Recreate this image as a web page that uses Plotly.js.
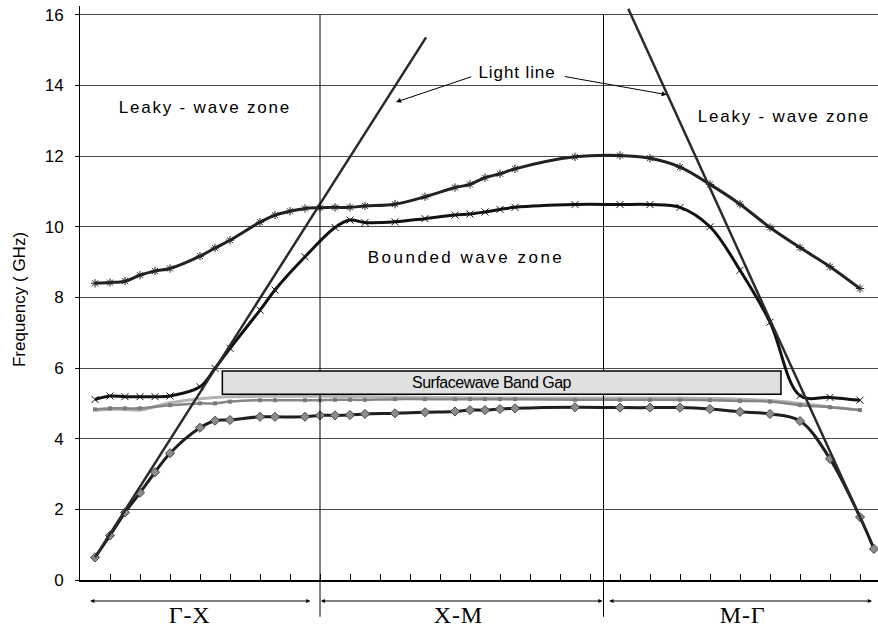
<!DOCTYPE html>
<html>
<head>
<meta charset="utf-8">
<script src="https://cdn.plot.ly/plotly-3.0.1.min.js"></script>
<style>html,body{margin:0;padding:0;background:#fff;}#chart{width:878px;height:631px;}</style>
</head>
<body>
<div id="chart"></div>
<script>
// k-point index along the Γ-X-M-Γ path (one unit = one sampled k step)
const kTop = [0,1,2,3,4,5,7,8,9,11,12,13,14,15,16,17,18,20,22,24,25,26,27,28,32,35,37,39,41,43,45,47,49,51];
const fTop = [8.40,8.42,8.46,8.63,8.75,8.82,9.17,9.40,9.62,10.13,10.33,10.44,10.52,10.54,10.55,10.55,10.59,10.64,10.85,11.11,11.20,11.39,11.50,11.64,11.98,12.02,11.94,11.69,11.20,10.64,9.98,9.41,8.87,8.25];

const kSecond = [0,1,2,3,4,5,7,8,9,11,12,14,16,17,18,20,22,24,25,26,27,28,32,35,37,39,41,43,45,47,49,51];
const fSecond = [5.11,5.21,5.19,5.19,5.19,5.21,5.47,5.99,6.56,7.64,8.21,9.15,9.98,10.19,10.12,10.14,10.23,10.33,10.36,10.42,10.49,10.55,10.63,10.63,10.63,10.55,10.00,8.77,7.30,5.22,5.17,5.09];

const kGrayA = [0,1,2,3,5,8,11,15,20,25,32,39,43,45,47,49,51];
const fGrayA = [4.81,4.83,4.83,4.81,5.02,5.17,5.20,5.20,5.18,5.16,5.15,5.15,5.12,5.08,5.00,4.90,4.81];

const kGrayB = [0,1,2,3,5,7,8,9,11,12,14,15,16,17,18,20,22,24,25,26,27,28,32,35,37,39,41,43,45,47,49,51];
const fGrayB = [4.83,4.86,4.86,4.86,4.95,5.00,5.00,5.05,5.09,5.09,5.09,5.09,5.10,5.10,5.10,5.12,5.12,5.12,5.12,5.12,5.12,5.12,5.10,5.10,5.10,5.10,5.09,5.07,5.05,4.95,4.89,4.81];

const kBottom = [0,1,2,3,4,5,7,8,9,11,12,14,15,16,17,18,20,22,24,25,26,27,28,32,35,37,39,41,43,45,47,49,51,51.93];
const fBottom = [0.64,1.26,1.91,2.47,3.05,3.59,4.31,4.51,4.53,4.62,4.62,4.62,4.66,4.66,4.67,4.70,4.72,4.75,4.77,4.81,4.81,4.84,4.86,4.89,4.88,4.88,4.88,4.84,4.76,4.70,4.50,3.43,1.78,0.88];

const kLightLeft = [0, 22.07];
const fLightLeft = [0.64, 15.36];
const kLightRight = [35.55, 51.33];
const fLightRight = [16.17, 1.47];

const gapBand = {k0: 8.49, k1: 45.73, f0: 5.26, f1: 5.92};
const separators = [15, 33.9];
const segmentLabels = ['Γ-X', 'X-M', 'M-Γ'];
const yTicks = [0,2,4,6,8,10,12,14,16];

const xRange = [-1, 52.2];
const yRange = [0, 16.25];

const sans = 'Liberation Sans, Arial, sans-serif';
const serif = 'Liberation Serif, Times New Roman, serif';

function curve(k, f, color, width, marker) {
  return {
    x: k, y: f, type: 'scatter', mode: marker ? 'lines+markers' : 'lines',
    line: {color: color, width: width, shape: 'spline', smoothing: 1},
    marker: marker || {}, hoverinfo: 'skip', showlegend: false, cliponaxis: true
  };
}

const traces = [
  curve(kGrayA, fGrayA, '#b3b3b3', 3),
  curve(kGrayB, fGrayB, '#858585', 2.5, {symbol: 'square', size: 4, color: '#7a7a7a'}),
  curve(kTop, fTop, '#222222', 3, {symbol: 'asterisk-open', size: 7, line: {color: '#9a9a9a', width: 1}}),
  curve(kSecond, fSecond, '#111111', 3, {symbol: 'x-thin-open', size: 7, line: {color: '#a8a8a8', width: 1}}),
  curve(kBottom, fBottom, '#1f1f1f', 3, {symbol: 'diamond', size: 7, color: '#8c8c8c', line: {color: '#444', width: 1}}),
  {x: kLightLeft, y: fLightLeft, type: 'scatter', mode: 'lines', line: {color: '#2a2a2a', width: 2.5}, hoverinfo: 'skip', showlegend: false},
  {x: kLightRight, y: fLightRight, type: 'scatter', mode: 'lines', line: {color: '#2a2a2a', width: 2.5}, hoverinfo: 'skip', showlegend: false}
];

// paper fraction of an x data value (axis domain spans full paper width)
function px(v) { return (v - xRange[0]) / (xRange[1] - xRange[0]); }
const top16 = 16 / yRange[1];

const shapes = [];
separators.forEach(s => {
  shapes.push({type: 'line', xref: 'paper', yref: 'paper', x0: px(s), x1: px(s), y0: -0.064, y1: top16,
    line: {color: '#000', width: 1}, layer: 'above'});
});
shapes.push({type: 'rect', xref: 'x', yref: 'y', x0: gapBand.k0, x1: gapBand.k1, y0: gapBand.f0, y1: gapBand.f1,
  fillcolor: '#e0e0e0', line: {color: '#000', width: 1.5}, layer: 'above'});

const arrowY = -0.0366;
const segEdges = [[0.0109, 0.2887], [0.2999, 0.6548], [0.6613, 0.9925]];
const labelX = [0.1375, 0.4747, 0.8308];

const annotations = [
  {text: 'Frequency ( GHz)', xref: 'paper', yref: 'paper', x: -0.0764, y: 0.4878, textangle: -90,
    xanchor: 'center', yanchor: 'middle', showarrow: false, font: {family: sans, size: 17, color: '#000'}},
  {text: 'Leaky - wave zone', xref: 'x', yref: 'y', x: 7.33, y: 13.38, showarrow: false,
    xanchor: 'center', font: {family: sans, size: 17, color: '#000'}},
  {text: 'Leaky - wave zone', xref: 'x', yref: 'y', x: 45.95, y: 13.13, showarrow: false,
    xanchor: 'center', font: {family: sans, size: 17, color: '#000'}},
  {text: 'Bounded wave zone', xref: 'x', yref: 'y', x: 24.7, y: 9.12, showarrow: false,
    xanchor: 'center', font: {family: sans, size: 17, color: '#000'}},
  {text: 'Light line', xref: 'x', yref: 'y', x: 28.13, y: 14.38, showarrow: false,
    xanchor: 'center', font: {family: sans, size: 17, color: '#000'}},
  {text: '', xref: 'x', yref: 'y', x: 20.07, y: 13.53, axref: 'x', ayref: 'y', ax: 25.18, ay: 14.26,
    showarrow: true, arrowhead: 2, arrowsize: 1, arrowwidth: 1, arrowcolor: '#000'},
  {text: '', xref: 'x', yref: 'y', x: 38.11, y: 13.74, axref: 'x', ayref: 'y', ax: 31.22, ay: 14.26,
    showarrow: true, arrowhead: 2, arrowsize: 1, arrowwidth: 1, arrowcolor: '#000'},
  {text: 'Surfacewave Band Gap', xref: 'x', yref: 'y', x: 26.4, y: (gapBand.f0 + gapBand.f1) / 2, showarrow: false,
    xanchor: 'center', font: {family: sans, size: 16, color: '#000'}}
];
segEdges.forEach((e, i) => {
  annotations.push({text: '', xref: 'paper', yref: 'paper', x: e[1], y: arrowY, axref: 'pixel', ayref: 'pixel',
    ax: -(e[1] - e[0]) * 798, ay: 0, showarrow: true, arrowhead: 2, arrowside: 'end+start',
    arrowsize: 0.7, arrowwidth: 1.2, arrowcolor: '#000'});
  annotations.push({text: segmentLabels[i], xref: 'paper', yref: 'paper', x: labelX[i], y: -0.0610,
    xanchor: 'center', yanchor: 'middle', borderpad: 0, showarrow: false,
    font: {family: serif, size: 24, color: '#000'}});
});

// letter spacing of the spread-out labels, applied after drawing
const spacing = {
  'Leaky - wave zone': 1.8,
  'Bounded wave zone': 2.5,
  'Light line': 0.9,
  'Surfacewave Band Gap': -0.5,
  'Γ-X': 0.8,
  'X-M': 0.8,
  'M-Γ': 0.8
};

const layout = {
  width: 878, height: 631,
  margin: {l: 80, r: 0, t: 6, b: 51, pad: 0},
  paper_bgcolor: '#fff', plot_bgcolor: '#fff',
  showlegend: false,
  xaxis: {range: xRange, showgrid: false, zeroline: false, showline: true, linecolor: '#000', linewidth: 2,
    ticks: 'inside', tick0: -1, dtick: 2, ticklen: 6, tickcolor: '#000', tickwidth: 1, showticklabels: false,
    fixedrange: true},
  yaxis: {range: yRange, tickmode: 'array', tickvals: yTicks, ticktext: yTicks.map(String),
    showgrid: true, gridcolor: '#4a4a4a', gridwidth: 1, zeroline: false,
    showline: true, linecolor: '#000', linewidth: 1, ticks: 'outside', ticklen: 4, tickcolor: '#000',
    ticklabelstandoff: 8, tickfont: {family: sans, size: 17, color: '#000'}, fixedrange: true},
  shapes: shapes,
  annotations: annotations
};

Plotly.newPlot('chart', traces, layout, {staticPlot: true, displayModeBar: false}).then(() => {
  document.querySelectorAll('#chart .annotation-text').forEach(t => {
    const s = spacing[t.textContent];
    if (s) t.style.letterSpacing = s + 'px';
  });
});
</script>
</body>
</html>
